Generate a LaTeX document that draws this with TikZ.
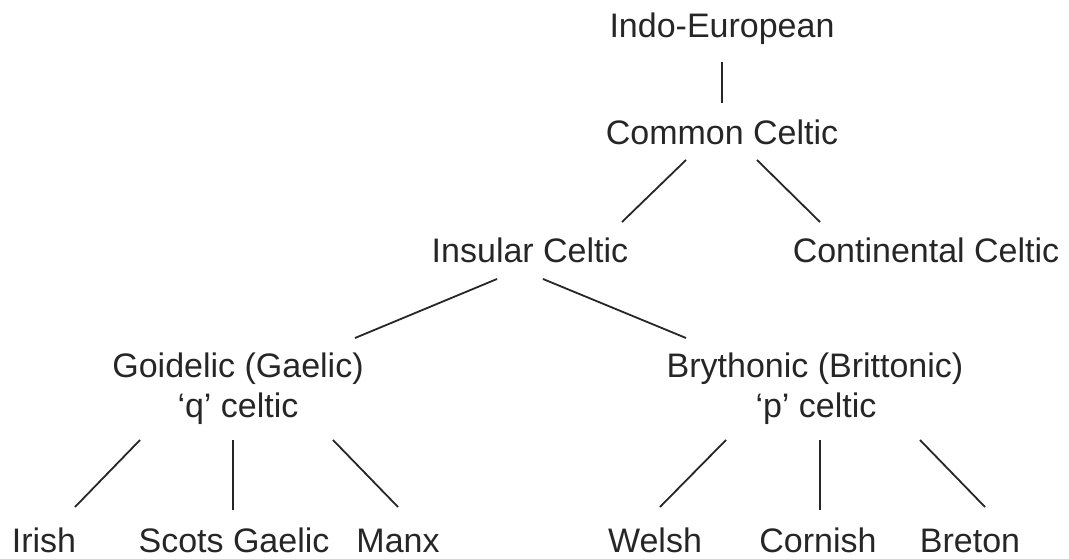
\documentclass[tikz,border=0pt]{standalone}
\usepackage{fontspec}
\setmainfont{Liberation Sans}
\usetikzlibrary{calc}
\begin{document}
\begin{tikzpicture}[x=1pt,y=-1pt,
  lbl/.style={anchor=base,inner sep=0pt,font=\fontsize{34}{40}\selectfont,text=black!85},
  edge/.style={line width=1.8pt,draw=black!85}]
\useasboundingbox (0,0) rectangle (1069,559);
\node[lbl] (ie) at (722,38) {Indo-European};
\node[lbl] (cc) at (722,145) {Common Celtic};
\node[lbl] (ic) at (530,262) {Insular Celtic};
\node[lbl] (ct) at (926,262) {Continental Celtic};
\node[lbl] (go) at (238,377) {Goidelic (Gaelic)};
\node[lbl] (goq) at (238,417) {‘q’ celtic};
\node[lbl] (br) at (815,377) {Brythonic (Brittonic)};
\node[lbl] (brp) at (816,417) {‘p’ celtic};
\node[lbl] (ir) at (44,552) {Irish};
\node[lbl] (sg) at (234,552) {Scots Gaelic};
\node[lbl] (mx) at (398,552) {Manx};
\node[lbl] (we) at (655,552) {Welsh};
\node[lbl] (co) at (818,552) {Cornish};
\node[lbl] (bt) at (970,552) {Breton};
\draw[edge] ($(ie.base)+(0,24)$) -- ($(cc.base)+(0,-42)$);
\draw[edge] ($(cc.base)+(-36,15)$) -- ($(ic.base)+(92,-40)$);
\draw[edge] ($(cc.base)+(35,15)$) -- ($(ct.base)+(-106,-40)$);
\draw[edge] ($(ic.base)+(-33,17)$) -- ($(go.base)+(117,-39)$);
\draw[edge] ($(ic.base)+(13,17)$) -- ($(br.base)+(-129,-39)$);
\draw[edge] ($(goq.base)+(-98,23)$) -- ($(ir.base)+(31,-45)$);
\draw[edge] ($(goq.base)+(-5,23)$) -- ($(sg.base)+(-1,-42)$);
\draw[edge] ($(goq.base)+(95,23)$) -- ($(mx.base)+(0,-45)$);
\draw[edge] ($(brp.base)+(-90,23)$) -- ($(we.base)+(5,-45)$);
\draw[edge] ($(brp.base)+(4,23)$) -- ($(co.base)+(2,-42)$);
\draw[edge] ($(brp.base)+(104,23)$) -- ($(bt.base)+(15,-45)$);
\end{tikzpicture}
\end{document}
